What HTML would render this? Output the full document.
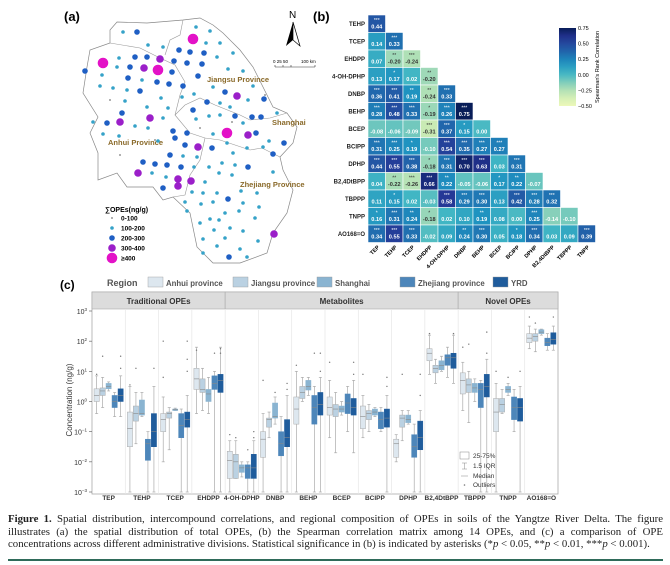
<!DOCTYPE html>
<html><head><meta charset="utf-8"><style>
html,body{margin:0;padding:0;background:#fff;}
body{width:670px;height:565px;overflow:hidden;position:relative;font-family:"Liberation Sans",sans-serif;}
#cap{position:absolute;left:8px;top:513px;width:655px;font-family:"Liberation Serif",serif;font-size:10.8px;line-height:12.6px;color:#222;}
#cap div{text-align:justify;text-align-last:justify;white-space:nowrap;}
#cap div.last{text-align-last:left;}
#rule{position:absolute;left:8px;top:559px;width:655px;height:2px;background:#2f6b5a;}
</style></head><body>
<svg id="fig" width="670" height="505" viewBox="0 0 670 505" style="position:absolute;left:0;top:0" font-family="Liberation Sans, sans-serif">
 <g id="map">
  <text x="64" y="21" font-size="13" font-weight="bold">(a)</text>
  <path fill="#fff" stroke="#888" stroke-width="0.7" d="M117,22 L147,23 L183,20 L200,18 L213,25 L223,33 L240,50 L253,67 L263,87 L273,107 L287,113 L297,127 L293,143 L280,157 L283,170 L293,190 L287,213 L273,233 L267,253 L240,263 L213,263 L197,247 L190,213 L173,197 L163,200 L153,187 L127,187 L117,173 L98,180 L98,153 L90,133 L98,117 L83,93 L87,67 L90,50 L110,43 L110,30 Z"/>
  <path fill="none" stroke="#999" stroke-width="0.6" d="M110,43 L140,48 L160,58 L175,65 L185,82 L180,95 L175,115 L190,133 L205,138 L220,140 L235,145 L250,150 L262,148 L280,157 M183,20 L180,35 L170,40 L165,55 M175,115 L185,105 L200,98 L215,105 L240,115 L250,120 L270,118 L287,113 M205,138 L200,160 L190,175 L185,195 L173,197"/>
  <text x="207" y="82" font-size="7.5" font-weight="bold" fill="#8a6a2a">Jiangsu Province</text>
  <text x="272" y="125" font-size="7.5" font-weight="bold" fill="#8a6a2a">Shanghai</text>
  <text x="108" y="145" font-size="7.5" font-weight="bold" fill="#8a6a2a">Anhui Province</text>
  <text x="240" y="187" font-size="7.5" font-weight="bold" fill="#8a6a2a">Zhejiang Province</text>
  <g><text x="289" y="18" font-size="10">N</text><path d="M293,22 L286,46 L293,40 Z" fill="#000"/><path d="M293,22 L300,46 L293,40 Z" fill="#fff" stroke="#000" stroke-width="0.7"/></g>
  <g font-size="4.5"><text x="273" y="63">0  25 50</text><text x="301" y="63">100 km</text><path d="M275,67 L315,67 M275,65 L275,67 M283,65 L283,67 M291,65 L291,67 M315,65 L315,67" stroke="#333" stroke-width="0.6" fill="none"/></g>
  <g id="dots"></g>
  <g id="mapleg"><text x="105" y="212" font-size="7" font-weight="bold">∑OPEs(ng/g)</text></g>
 </g>
 <g id="heat">
  <text x="313" y="21" font-size="13" font-weight="bold">(b)</text>
 </g>
 <g id="box">
  <text x="60" y="289" font-size="12" font-weight="bold">(c)</text>
 </g>
</svg>
<div id="cap"><div><b>Figure 1.</b> Spatial distribution, intercompound correlations, and regional composition of OPEs in soils of the Yangtze River Delta. The figure</div><div>illustrates (a) the spatial distribution of total OPEs, (b) the Spearman correlation matrix among 14 OPEs, and (c) a comparison of OPE</div><div class="last">concentrations across different administrative divisions. Statistical significance in (b) is indicated by asterisks (*<i>p</i> &lt; 0.05, **<i>p</i> &lt; 0.01, ***<i>p</i> &lt; 0.001).</div></div>
<div id="rule"></div>
<script>
const NS='http://www.w3.org/2000/svg';
function mk(tag,attrs,parent,txt){const e=document.createElementNS(NS,tag);for(const k in attrs)e.setAttribute(k,attrs[k]);if(txt!==undefined)e.textContent=txt;parent.appendChild(e);return e;}

// ---------- (a) map ----------
const siteX=[137,123,196,210,193,206,220,148,163,179,190,204,233,103,119,135,147,160,174,187,202,217,85,102,117,130,144,158,172,198,228,243,128,142,157,169,183,100,113,127,140,213,225,253,237,264,194,207,125,161,182,220,248,230,147,122,168,193,220,235,252,261,277,120,150,107,135,163,196,209,243,93,148,173,187,227,248,256,213,103,119,175,269,284,158,198,185,212,227,233,247,263,273,170,183,197,222,143,155,167,181,194,209,235,248,273,138,152,166,178,191,205,219,232,178,163,192,203,217,241,257,185,228,213,243,201,259,187,225,239,210,219,255,200,230,243,214,274,203,225,258,217,240,203,229,247,110,155,232,120,200,265];
const siteY=[32,32,27,31,39,43,43,45,47,50,52,53,53,63,58,57,57,59,61,63,64,57,71,75,67,67,68,70,72,76,69,71,78,80,82,84,86,86,88,90,91,87,92,86,96,99,94,102,101,98,97,103,100,107,107,113,108,110,115,116,117,117,113,122,118,123,126,118,119,116,123,122,128,131,133,133,135,133,134,134,136,138,141,143,141,147,145,148,143,153,148,147,154,155,156,157,163,162,164,165,167,167,167,165,167,172,173,173,177,179,181,182,173,175,186,188,192,193,193,191,193,202,199,202,203,204,207,211,213,211,219,220,218,223,228,231,230,234,239,238,241,246,249,253,257,257,100,140,122,155,128,95];
const siteCat=[2,1,1,1,4,1,1,1,1,2,2,2,1,4,1,2,2,3,2,2,2,1,2,1,1,2,3,4,2,2,1,1,2,1,2,2,2,1,1,1,2,1,2,1,3,2,1,2,1,1,1,1,1,1,1,2,1,2,1,2,2,2,1,3,3,2,1,1,1,1,1,1,1,2,2,4,3,2,1,1,1,2,1,2,1,3,2,2,1,1,1,1,2,2,1,1,1,2,2,2,2,1,1,1,2,1,3,1,1,3,3,1,1,1,3,2,1,1,1,1,1,1,2,1,1,1,1,1,1,1,1,1,1,1,1,1,1,3,1,1,1,1,1,1,2,1,0,0,0,0,0,0];
const catLabels=['0-100','100-200','200-300','300-400','≥400'];
const catR=[1,1.8,2.8,3.8,5.3];const catC=['#999','#35a2c8','#1f5fc4','#9b1fc9','#e312c7'];
const dots=document.getElementById('dots');
for(let i=0;i<siteX.length;i++){
 const c=mk('circle',{cx:siteX[i],cy:siteY[i],r:catR[siteCat[i]],fill:catC[siteCat[i]]},dots);
 
 
}
const ml=document.getElementById('mapleg');
catLabels.forEach((t,i)=>{const y=218+i*10;
 const g=mk('g',{},ml);
 
 
 mk('circle',{cx:112,cy:y,r:catR[i],fill:catC[i]},g);mk('text',{x:121,y:y+2.5,'font-size':6.5,'font-weight':'bold'},g,t);});

// ---------- (b) heatmap ----------
const hLabels=['TEP','TEHP','TCEP','EHDPP','4-OH-DPHP','DNBP','BEHP','BCEP','BCIPP','DPHP','B2,4DtBPP','TBPPP','TNPP','AO168=O'];
const hVals=[[0.44],[0.14,0.33],[0.07,-0.20,-0.24],[0.13,0.17,0.02,-0.20],[0.36,0.41,0.19,-0.24,0.33],[0.28,0.48,0.33,-0.19,0.26,0.75],[-0.08,-0.06,-0.09,-0.31,0.37,0.15,-0.00],[0.31,0.25,0.19,-0.10,0.54,0.35,0.27,0.27],[0.44,0.55,0.38,-0.18,0.31,0.70,0.63,0.03,0.31],[0.04,-0.22,-0.26,0.66,0.22,-0.05,-0.06,0.17,0.22,-0.07],[0.11,0.15,0.02,-0.03,0.58,0.29,0.30,0.13,0.42,0.28,0.32],[0.16,0.31,0.24,-0.18,0.02,0.10,0.19,0.08,-0.00,0.25,-0.14,-0.10],[0.34,0.55,0.33,-0.02,0.09,0.24,0.30,0.05,0.18,0.34,0.03,0.09,0.39]];
const hStars=[['***'],['','***'],['','**','***'],['','*','','**'],['***','***','**','**','***'],['***','***','***','*','***','***'],['','','','***','***','*',''],['***','***','*','','***','***','***','***'],['***','***','***','*','***','***','***','','***'],['','**','***','***','**','','','*','**',''],['','*','','','***','***','***','','***','***','***'],['*','***','**','*','','','**','','','***','',''],['***','***','***','','','**','***','','*','***','','','***']];
const cStops=[[-0.5,[237,248,185]],[-0.3,[199,233,180]],[-0.12,[127,205,187]],[0.02,[65,182,196]],[0.2,[29,145,192]],[0.4,[34,94,168]],[0.6,[37,52,148]],[0.75,[8,29,88]]];
function cmap(v){v=Math.max(-0.5,Math.min(0.75,v));for(let i=0;i<cStops.length-1;i++){const a=cStops[i],b=cStops[i+1];if(v<=b[0]){const t=(v-a[0])/(b[0]-a[0]);const c=a[1].map((x,j)=>Math.round(x+(b[1][j]-x)*t));return 'rgb('+c.join(',')+')';}}return 'rgb(8,29,88)';}
const heat=document.getElementById('heat');const hx0=368,hy0=15,cs=17.5;
hVals.forEach((row,r)=>{
 const lab=mk('text',{x:hx0-3,y:hy0+r*cs+11,'font-size':6,'font-weight':'bold','text-anchor':'end',fill:'#222'},heat,hLabels[r+1]);
 
 
 row.forEach((v,c)=>{const x=hx0+c*cs,y=hy0+r*cs;
  const rc=mk('rect',{x:x,y:y,width:cs,height:cs,fill:cmap(v),stroke:'#fff','stroke-width':0.6},heat);
  
  
  const tc=v>-0.15?'#fff':'#333';
  mk('text',{x:x+cs/2,y:y+7,'font-size':5,'text-anchor':'middle',fill:tc},heat,hStars[r][c]);
  mk('text',{x:x+cs/2,y:y+13.5,'font-size':5.6,'font-weight':'bold','text-anchor':'middle',fill:tc},heat,v.toFixed(2));
 });});
hLabels.slice(0,13).forEach((t,c)=>{const x=hx0+c*cs+cs/2+3,y=hy0+13*cs+5;
 const e=mk('text',{x:x,y:y,'font-size':5.5,'font-weight':'bold','text-anchor':'end',transform:'rotate(-45 '+x+' '+y+')'},heat,t);
 
 });
const grad=mk('linearGradient',{id:'cg',x1:0,y1:1,x2:0,y2:0},mk('defs',{},heat));
for(let i=0;i<=10;i++){const v=-0.5+1.25*i/10;mk('stop',{offset:i/10,'stop-color':cmap(v)},grad);}
const cb=mk('rect',{x:559,y:28,width:17,height:78,fill:'url(#cg)'},heat);


const cbTicks=[0.75,0.5,0.25,0,-0.25,-0.5];
cbTicks.forEach(v=>{const y=28+(0.75-v)/1.25*78;mk('text',{x:578,y:y+2,'font-size':5.5},heat,v.toFixed(2).replace('-','−'));});
const cbt=mk('text',{x:599,y:67,'font-size':5.5,'text-anchor':'middle',transform:'rotate(-90 599 67)'},heat,"Spearman's Rank Correlation");



// ---------- (c) boxplots ----------
const compounds=['TEP','TEHP','TCEP','EHDPP','4-OH-DPHP','DNBP','BEHP','BCEP','BCIPP','DPHP','B2,4DtBPP','TBPPP','TNPP','AO168=O'];
const regions=['Anhui province','Jiangsu province','Shanghai','Zhejiang province','YRD'];
const regionColors=['#dde7ef','#bad1e2','#8ab4d1','#4d86ba','#1f5c9c'];
const yTicks=[3,2,1,0,-1,-2,-3];
// per compound: [Anhui, Jiangsu, Shanghai, Zhejiang, YRD], each [whiskerLow, q1, median, q3, whiskerHigh] in log10(ng/g)
const stats=[
[[-0.4,0,0.2,0.42,0.85],[-0.2,0.2,0.35,0.45,0.8],[0.35,0.42,0.5,0.6,0.65],[-0.5,-0.2,0,0.2,0.3],[-0.5,0,0.2,0.42,0.85]],
[[-3,-1.5,-0.9,-0.35,0.5],[-1.4,-0.65,-0.4,-0.15,0.3],[-0.5,-0.45,-0.4,0.05,0.3],[-3,-1.95,-1.4,-1.25,-1.0],[-3,-1.5,-1,-0.4,0.5]],
[[-2,-1,-0.6,-0.4,0.15],[-1.6,-0.55,-0.4,-0.35,-0.2],[-0.3,-0.3,-0.27,-0.25,-0.22],[-3,-1.2,-0.8,-0.4,-0.25],[-3,-0.85,-0.6,-0.35,0.2]],
[[-0.4,0.4,0.75,1.1,1.8],[-0.3,0.3,0.4,0.75,1.1],[-0.4,0,0.25,0.4,0.8],[-3,0.4,0.6,0.85,1.0],[-3,0.3,0.7,0.9,1.8]],
[[-3,-2.55,-1.95,-1.65,-1.3],[-2.55,-2.55,-2,-1.75,-1.3],[-2.5,-2.35,-2.2,-2.1,-2.0],[-3,-2.55,-2.2,-2.1,-2.0],[-3,-2.55,-2.2,-1.75,-1.3]],
[[-3,-1.85,-1.25,-1,-0.4],[-1.2,-0.85,-0.6,-0.55,-0.35],[-0.75,-0.55,-0.5,-0.05,0.15],[-3,-1.8,-1.4,-1,-0.5],[-3,-1.5,-1.2,-0.6,0.2]],
[[-3,-0.75,-0.25,0.15,1.0],[0,0.1,0.3,0.5,0.8],[0.2,0.38,0.5,0.7,0.8],[-3,-0.75,-0.2,0.2,0.5],[-3,-0.45,-0.1,0.3,0.8]],
[[-1.2,-0.45,-0.2,0.15,0.7],[-1.7,-0.5,-0.25,-0.1,0.3],[-0.45,-0.35,-0.25,-0.15,0],[-1,-0.4,-0.05,0.25,0.5],[-1.7,-0.45,-0.2,0.1,0.7]],
[[-1.2,-0.9,-0.5,-0.15,0.2],[-1.0,-0.6,-0.4,-0.3,-0.1],[-0.5,-0.45,-0.35,-0.25,-0.2],[-1,-0.9,-0.6,-0.35,-0.2],[-3,-0.85,-0.55,-0.25,0.2]],
[[-2,-1.85,-1.4,-1.25,-1.1],[-1.3,-0.85,-0.55,-0.45,-0.3],[-0.75,-0.7,-0.6,-0.45,-0.3],[-3,-1.85,-1.5,-1.1,-0.75],[-3,-1.6,-1.2,-0.65,-0.3]],
[[0.9,1.35,1.6,1.75,2.2],[0.6,0.95,1.1,1.2,1.4],[1.0,1.05,1.2,1.35,1.5],[0.8,1.2,1.45,1.55,1.8],[0.6,1.1,1.45,1.6,2.2]],
[[-0.3,0.25,0.7,0.95,1.3],[-0.7,0.3,0.55,0.75,1.0],[0,0.3,0.45,0.6,0.75],[-3,-0.2,0.4,0.6,0.7],[-3,0.15,0.5,0.9,1.4]],
[[-3,-1,-0.35,0.1,0.6],[-0.4,-0.35,-0.1,0.1,0.4],[0.2,0.3,0.4,0.5,0.6],[-1,-0.6,-0.2,0.15,0.4],[-3,-0.65,-0.2,0.1,0.5]],
[[1.75,1.95,2.1,2.25,2.5],[1.65,2.0,2.15,2.25,2.4],[2.2,2.25,2.3,2.38,2.4],[1.7,1.85,1.95,2.1,2.25],[1.7,1.9,2.05,2.28,2.5]]];
// outliers: [compoundIndex, regionIndex, log10 value]
const outliers=[[0,0,0.9],[0,1,1.5],[0,4,1.5],[0,4,1.1],[1,0,0.55],[1,1,1.1],[1,4,1.1],[2,0,0.8],[2,4,2.0],[2,4,1.4],[2,4,1.0],[2,0,2.0],[3,0,1.7],[3,4,1.75],[3,4,1.6],[3,3,1.6],[4,0,-1.1],[4,1,-1.2],[4,4,-1.0],[4,4,-1.2],[4,3,-1.6],[5,0,0.7],[5,4,0.6],[5,4,0.4],[5,2,0.3],[6,0,1.2],[6,4,1.6],[6,3,1.6],[6,4,1.0],[7,0,1.3],[7,4,1.3],[7,4,0.9],[8,0,0.9],[8,4,0.8],[8,4,0.5],[9,1,0.9],[9,4,0.9],[9,4,0.2],[10,0,2.25],[10,4,2.25],[11,0,1.8],[11,1,1.9],[11,4,2.3],[11,4,1.6],[12,0,1.0],[12,4,1.0],[12,2,0.8],[13,0,2.8],[13,4,2.8],[13,1,2.6]];
const box=document.getElementById('box');
const px0=92,px1=558,pyTop=311,pyBot=492,cw=(px1-px0)/compounds.length;
function ly(v){return pyBot-(v-(-3))/6*(pyBot-pyTop);}
function cx(i){return px0+cw*(i+0.5);}
// legend row
mk('text',{x:107,y:286,'font-size':9,'font-weight':'bold',fill:'#555'},box,'Region');
const legX=[148,233,317,400,493];
regions.forEach((r,i)=>{const g=mk('g',{},box);
 
 
 mk('rect',{x:legX[i],y:277,width:15,height:10,fill:regionColors[i],stroke:'#999','stroke-width':0.4},g);
 mk('text',{x:legX[i]+18,y:286,'font-size':7.8,'font-weight':'bold',fill:'#555'},g,r);});
// frame and strips
mk('rect',{x:px0,y:292,width:px1-px0,height:pyBot+2-292,fill:'#fff',stroke:'#aaa','stroke-width':0.8},box);
const groups=[['Traditional  OPEs',0,4],['Metabolites',4,11],['Novel  OPEs',11,14]];
groups.forEach(g=>{const x=px0+cw*g[1],w=cw*(g[2]-g[1]);
 const s=mk('rect',{x:x,y:292,width:w,height:17,fill:'#dcdcdc',stroke:'#aaa','stroke-width':0.6},box);
 
 
 mk('text',{x:x+w/2,y:304,'font-size':8,'font-weight':'bold','text-anchor':'middle',fill:'#333'},box,g[0]);});
for(let i=1;i<compounds.length;i++){mk('line',{x1:px0+cw*i,x2:px0+cw*i,y1:309,y2:pyBot+2,stroke:'#e6e6e6','stroke-width':0.7},box);}
yTicks.forEach(v=>{const y=ly(v);
 mk('line',{x1:px0-3,x2:px0,y1:y,y2:y,stroke:'#555','stroke-width':0.6},box);
 const t=mk('text',{x:px0-5,y:y+3,'font-size':7,'text-anchor':'end',fill:'#333'},box,'10');
 mk('tspan',{dy:-3,'font-size':4.5},t,String(v).replace('-','−'));});
const yt=mk('text',{x:72,y:400,'font-size':8,'text-anchor':'middle',fill:'#333',transform:'rotate(-90 72 400)'},box,'Concentration (ng/g)');


const offs=[-12,-6,0,6,12],bw=5.2;
compounds.forEach((c,i)=>{
 const xl=mk('text',{x:cx(i),y:500,'font-size':6.5,'font-weight':'bold','text-anchor':'middle',fill:'#333'},box,c);
 
 
 stats[i].forEach((s,r)=>{const x=cx(i)+offs[r];
  const g=mk('g',{},box);
  
  
  mk('line',{x1:x,x2:x,y1:ly(s[0]),y2:ly(s[4]),stroke:'#aaa','stroke-width':0.7},g);
  mk('line',{x1:x-1.5,x2:x+1.5,y1:ly(s[0]),y2:ly(s[0]),stroke:'#aaa','stroke-width':0.7},g);
  mk('line',{x1:x-1.5,x2:x+1.5,y1:ly(s[4]),y2:ly(s[4]),stroke:'#aaa','stroke-width':0.7},g);
  mk('rect',{x:x-bw/2,y:ly(s[3]),width:bw,height:Math.max(0.8,ly(s[1])-ly(s[3])),fill:regionColors[r],stroke:r<2?'#aaa':regionColors[r],'stroke-width':0.5},g);
  mk('line',{x1:x-bw/2,x2:x+bw/2,y1:ly(s[2]),y2:ly(s[2]),stroke:'#888','stroke-width':0.6},g);
 });});
outliers.forEach(o=>{const d=mk('circle',{cx:cx(o[0])+offs[o[1]],cy:ly(o[2]),r:0.7,fill:'#777'},box);
 
 });
// inner legend
const il=mk('g',{'font-size':6.5,fill:'#333'},box);


mk('rect',{x:460,y:452,width:9,height:7,fill:'#fff',stroke:'#888','stroke-width':0.5},il);mk('text',{x:473,y:458},il,'25-75%');
mk('path',{d:'M462,463 L467,463 M464.5,463 L464.5,469 M462,469 L467,469',stroke:'#888','stroke-width':0.5,fill:'none'},il);mk('text',{x:473,y:468},il,'1.5 IQR');
mk('line',{x1:461,x2:468,y1:476,y2:476,stroke:'#aaa','stroke-width':0.7},il);mk('text',{x:473,y:478},il,'Median');
mk('circle',{cx:464.5,cy:485,r:0.8,fill:'#777'},il);mk('text',{x:473,y:487},il,'Outliers');
</script>
</body></html>
